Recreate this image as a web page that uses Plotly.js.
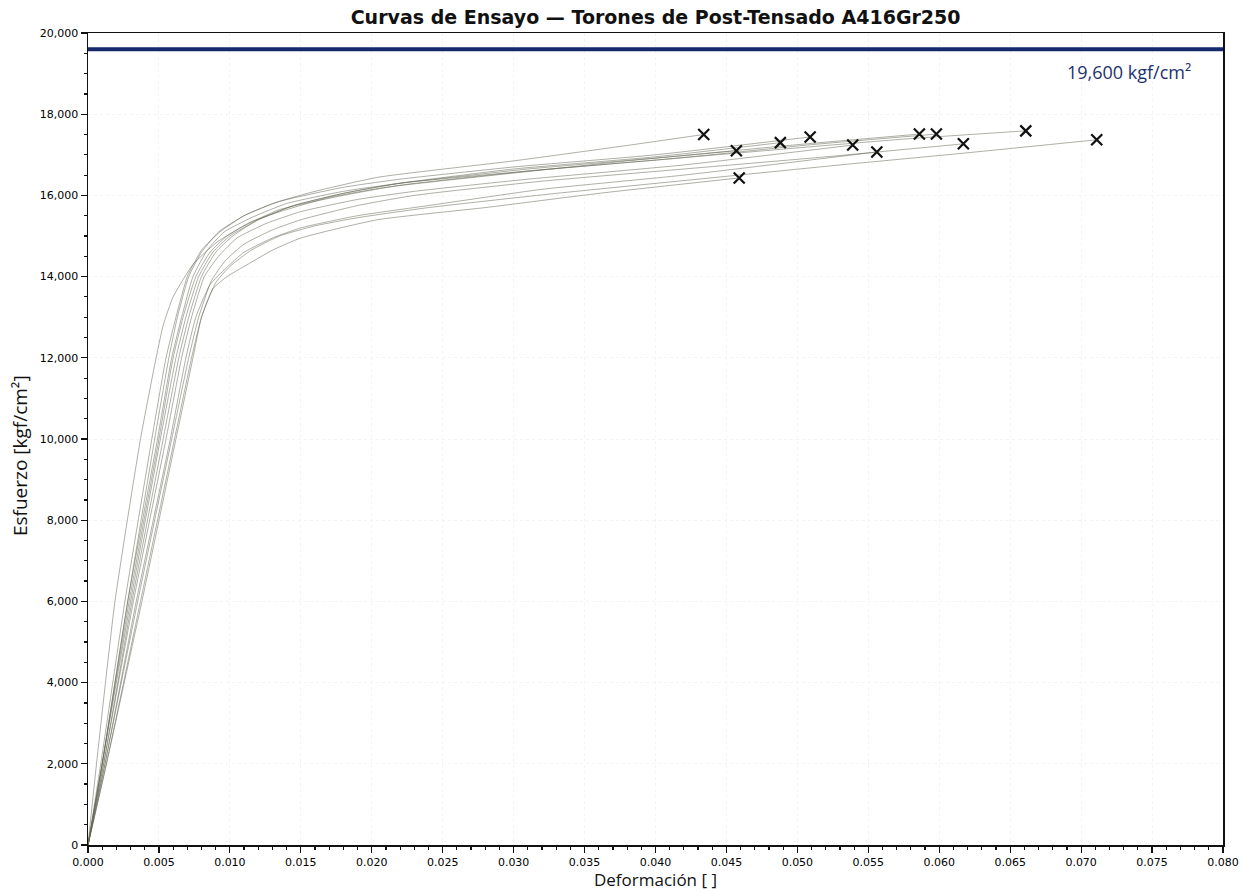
<!DOCTYPE html>
<html>
<head>
<meta charset="utf-8">
<script src="https://cdn.plot.ly/plotly-3.0.1.min.js"></script>
<style>html,body{margin:0;padding:0;background:#fff;}#chart{width:1244px;height:891px;}</style>
</head>
<body>
<div id="chart"></div>
<script>
// Reference line
const limitValue = 19600;
const limitLabel = "19,600 kgf/cm²";

// Test curves (strain [-], stress [kgf/cm²]) — last point = rupture (X marker)
const strainA = [0, 0.0010, 0.0028, 0.0047, 0.0057, 0.0063, 0.0071, 0.0080, 0.0092, 0.0110, 0.0130, 0.0160, 0.0205, 0.0300, 0.0380, 0.0434];
const stressA = [0, 2000, 6000, 10000, 12000, 13000, 14000, 14600, 15100, 15500, 15800, 16100, 16450, 16850, 17230, 17500];
const strainB = [0, 0.0010, 0.0029, 0.0050, 0.0060, 0.0067, 0.0076, 0.0086, 0.0098, 0.0115, 0.0140, 0.0170, 0.0210, 0.0300, 0.0380, 0.0457];
const stressB = [0, 2000, 6000, 10000, 12000, 13000, 14000, 14600, 15000, 15350, 15650, 15950, 16200, 16550, 16850, 17100];
const strainC = [0, 0.0013, 0.0038, 0.0062, 0.0074, 0.0080, 0.0088, 0.0098, 0.0110, 0.0130, 0.0150, 0.0204, 0.0280, 0.0360, 0.0459];
const stressC = [0, 2000, 6000, 10000, 12000, 13000, 13700, 14000, 14250, 14650, 14950, 15400, 15700, 16050, 16430];
const strainD = [0, 0.0011, 0.0031, 0.0053, 0.0064, 0.0071, 0.0080, 0.0090, 0.0102, 0.0120, 0.0145, 0.0180, 0.0220, 0.0300, 0.0400, 0.0488];
const stressD = [0, 2000, 6000, 10000, 12000, 13000, 14000, 14600, 15000, 15400, 15750, 16050, 16300, 16650, 16950, 17300];
const strainE = [0, 0.0009, 0.0026, 0.0045, 0.0055, 0.0062, 0.0070, 0.0080, 0.0093, 0.0110, 0.0135, 0.0180, 0.0220, 0.0300, 0.0400, 0.0509];
const stressE = [0, 2000, 6000, 10000, 12000, 13000, 14000, 14650, 15100, 15500, 15850, 16200, 16400, 16700, 17000, 17440];
const strainF = [0, 0.0011, 0.0032, 0.0055, 0.0066, 0.0073, 0.0082, 0.0092, 0.0105, 0.0125, 0.0150, 0.0190, 0.0230, 0.0310, 0.0420, 0.0539];
const stressF = [0, 2000, 6000, 10000, 12000, 13000, 14000, 14500, 14950, 15300, 15600, 15900, 16100, 16400, 16750, 17240];
const strainG = [0, 0.0012, 0.0034, 0.0058, 0.0069, 0.0076, 0.0086, 0.0097, 0.0110, 0.0130, 0.0150, 0.0190, 0.0240, 0.0320, 0.0420, 0.0556];
const stressG = [0, 2000, 6000, 10000, 12000, 13000, 13800, 14200, 14600, 14950, 15200, 15500, 15750, 16150, 16500, 17070];
const strainH = [0, 0.0010, 0.0028, 0.0049, 0.0059, 0.0066, 0.0074, 0.0084, 0.0096, 0.0115, 0.0140, 0.0180, 0.0220, 0.0310, 0.0410, 0.0500, 0.0586];
const stressH = [0, 2000, 6000, 10000, 12000, 13000, 14000, 14650, 15100, 15450, 15800, 16100, 16300, 16650, 16950, 17250, 17510];
const strainI = [0, 0.0006, 0.0019, 0.0037, 0.0048, 0.0053, 0.0060, 0.0074, 0.0091, 0.0110, 0.0135, 0.0180, 0.0220, 0.0310, 0.0410, 0.0510, 0.0598];
const stressI = [0, 2000, 6000, 10000, 12000, 12800, 13500, 14300, 14850, 15250, 15650, 16000, 16250, 16600, 16900, 17250, 17510];
const strainJ = [0, 0.0012, 0.0035, 0.0059, 0.0071, 0.0078, 0.0087, 0.0097, 0.0110, 0.0130, 0.0150, 0.0190, 0.0230, 0.0320, 0.0420, 0.0520, 0.0617];
const stressJ = [0, 2000, 6000, 10000, 12000, 13000, 13900, 14400, 14800, 15150, 15400, 15750, 16000, 16350, 16650, 16950, 17270];
const strainK = [0, 0.0010, 0.0030, 0.0051, 0.0062, 0.0069, 0.0078, 0.0088, 0.0100, 0.0120, 0.0145, 0.0180, 0.0220, 0.0310, 0.0410, 0.0510, 0.0580, 0.0661];
const stressK = [0, 2000, 6000, 10000, 12000, 13000, 14000, 14600, 15000, 15400, 15750, 16050, 16300, 16600, 16900, 17200, 17400, 17590];
const strainL = [0, 0.0013, 0.0037, 0.0061, 0.0073, 0.0080, 0.0090, 0.0100, 0.0115, 0.0135, 0.0160, 0.0190, 0.0240, 0.0330, 0.0430, 0.0530, 0.0620, 0.0711];
const stressL = [0, 2000, 6000, 10000, 12000, 13000, 13850, 14250, 14650, 15000, 15250, 15450, 15700, 16050, 16400, 16750, 17050, 17370];

const curves = [
  [strainA, stressA], [strainB, stressB], [strainC, stressC], [strainD, stressD],
  [strainE, stressE], [strainF, stressF], [strainG, stressG], [strainH, stressH],
  [strainI, stressI], [strainJ, stressJ], [strainK, stressK], [strainL, stressL]
];

const xTitle = "Deformación [ ]";
const yTitle = "Esfuerzo [kgf/cm²]";
const chartTitle = "Curvas de Ensayo — Torones de Post-Tensado A416Gr250";

const traces = [];
curves.forEach(([sx, sy]) => {
  traces.push({
    x: sx, y: sy, type: 'scatter', mode: 'lines',
    line: {color: 'rgba(100,104,84,0.62)', width: 0.85, shape: 'spline', smoothing: 0.5},
    hoverinfo: 'skip', showlegend: false
  });
});
traces.push({
  x: curves.map(c => c[0][c[0].length - 1]),
  y: curves.map(c => c[1][c[1].length - 1]),
  type: 'scatter', mode: 'markers',
  marker: {symbol: 'x-thin', size: 11, color: '#111', line: {color: '#111', width: 2.2}},
  showlegend: false
});

const tickFont = {family: 'DejaVu Sans', size: 11, color: '#000'};
const titleFont = {family: 'Open Sans', size: 17, color: '#111'};

const layout = {
  width: 1244, height: 891,
  margin: {l: 88, r: 21, t: 33, b: 46},
  paper_bgcolor: '#fff', plot_bgcolor: '#fff',
  showlegend: false,
  title: {
    text: '<b>' + chartTitle + '</b>',
    font: {family: 'DejaVu Sans', size: 19, color: '#111'},
    x: 0.527, xanchor: 'center', y: 0.98, yanchor: 'middle'
  },
  xaxis: {
    range: [0, 0.08], tick0: 0, dtick: 0.005, tickformat: '.3f',
    ticks: 'outside', ticklen: 6, tickwidth: 1.2, tickcolor: '#111',
    minor: {dtick: 0.001, ticks: 'outside', ticklen: 3, tickcolor: '#111', showgrid: false},
    showline: true, linecolor: '#111', linewidth: 1.5, mirror: true,
    showgrid: true, gridcolor: '#f4f4f4', gridwidth: 1, griddash: 'dot',
    zeroline: false, tickfont: tickFont,
    title: {text: xTitle, font: titleFont, standoff: 3}
  },
  yaxis: {
    range: [0, 20000], tick0: 0, dtick: 2000, tickformat: ',d',
    ticks: 'outside', ticklen: 6, tickwidth: 1.2, tickcolor: '#111',
    minor: {dtick: 500, ticks: 'outside', ticklen: 3, tickcolor: '#111', showgrid: false},
    showline: true, linecolor: '#111', linewidth: 1.5, mirror: true,
    showgrid: true, gridcolor: '#f4f4f4', gridwidth: 1, griddash: 'dot',
    zeroline: false, tickfont: tickFont
  },
  shapes: [{
    type: 'line', xref: 'paper', x0: 0, x1: 1, yref: 'y', y0: limitValue, y1: limitValue,
    line: {color: '#16296a', width: 4}
  }],
  annotations: [{
    xref: 'paper', x: 0.9736, xanchor: 'right', yref: 'y', y: limitValue, yshift: -23, yanchor: 'middle',
    text: limitLabel, showarrow: false,
    font: {family: 'Open Sans', size: 18, color: '#1d3170'}
  }, {
    xref: 'paper', x: -0.0599, xanchor: 'center', yref: 'paper', y: 0.479, yanchor: 'middle',
    text: yTitle, textangle: -90, showarrow: false,
    font: {family: 'Open Sans', size: 19, color: '#111'}
  }]
};

Plotly.newPlot('chart', traces, layout, {displayModeBar: false, staticPlot: true});
</script>
</body>
</html>
